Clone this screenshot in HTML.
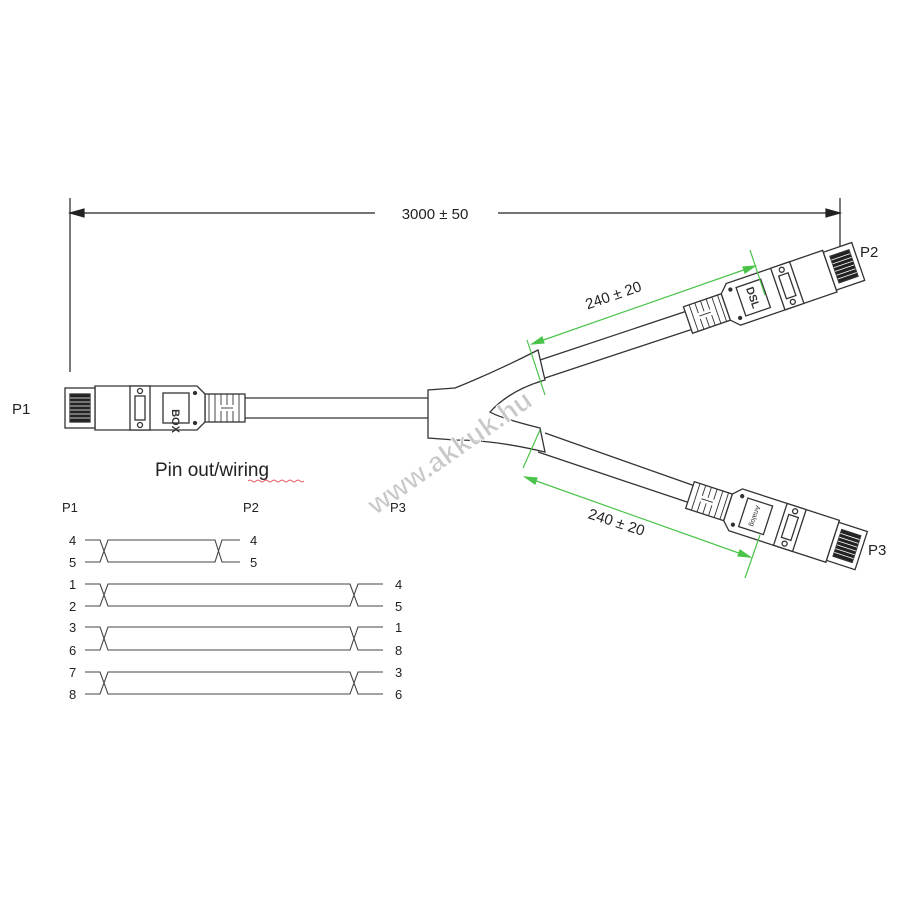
<!DOCTYPE html>
<html><head><meta charset="utf-8"><style>
html,body{margin:0;padding:0;background:#fff;}
svg{display:block;font-family:"Liberation Sans",sans-serif;}
</style></head><body>
<svg width="900" height="900" viewBox="0 0 900 900" xmlns="http://www.w3.org/2000/svg">
<defs>
<g id="conn" fill="#fff" stroke="#333" stroke-width="1.3">
  <rect x="0" y="-14" width="40" height="28"/>
  <g stroke-width="0.9">
    <line x1="6" y1="-14" x2="6" y2="14"/><line x1="12" y1="-14" x2="12" y2="-3"/><line x1="12" y1="3" x2="12" y2="14"/>
    <line x1="18" y1="-14" x2="18" y2="-3"/><line x1="18" y1="3" x2="18" y2="14"/><line x1="24" y1="-14" x2="24" y2="-3"/><line x1="24" y1="3" x2="24" y2="14"/>
    <line x1="30" y1="-14" x2="30" y2="14"/><line x1="36" y1="-14" x2="36" y2="14"/>
    <line x1="12" y1="0" x2="24" y2="0"/>
  </g>
  <path d="M40,-14 L48,-22 L150,-22 L150,22 L48,22 L40,14 Z"/>
  <rect x="56" y="-15" width="26" height="30"/>
  <circle cx="50" cy="-15" r="1.5" fill="#333"/><circle cx="50" cy="15" r="1.5" fill="#333"/>
  <rect x="95" y="-22" width="20" height="44"/>
  <rect x="100" y="-12" width="10" height="24"/>
  <circle cx="105" cy="-17" r="2.5"/><circle cx="105" cy="17" r="2.5"/>
  <rect x="150" y="-20" width="30" height="40"/>
  <rect x="155" y="-14" width="20" height="28" fill="#222"/>
  <g stroke="#fff" stroke-width="0.8">
    <line x1="155" y1="-10" x2="175" y2="-10"/><line x1="155" y1="-6" x2="175" y2="-6"/><line x1="155" y1="-2" x2="175" y2="-2"/><line x1="155" y1="2" x2="175" y2="2"/><line x1="155" y1="6" x2="175" y2="6"/><line x1="155" y1="10" x2="175" y2="10"/>
  </g>
</g>
</defs>

<g stroke="#222" stroke-width="1.2" fill="#222">
  <line x1="70" y1="198" x2="70" y2="372"/>
  <line x1="840" y1="198" x2="840" y2="250"/>
  <line x1="70" y1="213" x2="375" y2="213"/>
  <line x1="498" y1="213" x2="840" y2="213"/>
  <path d="M70,213 L84,209 L84,217 Z"/>
  <path d="M840,213 L826,209 L826,217 Z"/>
</g>
<text x="435" y="219" font-size="15" text-anchor="middle" fill="#222">3000 ± 50</text>

<g transform="translate(245,408) scale(-1,1)"><use href="#conn"/></g>
<text x="185" y="408" font-size="11" fill="#333" text-anchor="middle" transform="rotate(90 172 408)" font-weight="bold">BOX</text>
<g stroke="#333" stroke-width="1.3" fill="none">
  <line x1="245" y1="398" x2="428" y2="398"/>
  <line x1="245" y1="418" x2="428" y2="418"/>
  <path d="M428,390 L428,438 L455,440 Q495,440 545,452 L540,428 Q500,418 490,412 Q510,390 545,380 L538,350 Q495,372 455,388 Z" fill="#fff"/>
  <line x1="540" y1="360" x2="690" y2="310"/>
  <line x1="545" y1="378" x2="693" y2="329"/>
  <line x1="545" y1="433" x2="695" y2="486"/>
  <line x1="538" y1="452" x2="690" y2="503"/>
</g>
<g transform="translate(688,320) rotate(-19)"><use href="#conn"/>
  <text x="69" y="0" font-size="11" fill="#333" text-anchor="middle" transform="rotate(90 69 0)" dy="4" font-weight="bold">DSL</text></g>
<g transform="translate(690,495) rotate(18)"><use href="#conn"/>
  <text x="69" y="0" font-size="7" fill="#333" text-anchor="middle" transform="rotate(90 69 0)" dy="3">Analog</text></g>
<text x="860" y="257" font-size="15" fill="#222">P2</text>
<text x="868" y="555" font-size="15" fill="#222">P3</text>
<text x="12" y="414" font-size="15" fill="#222">P1</text>

<g stroke="#4ac34a" stroke-width="1.2" fill="#4ac34a">
  <line x1="527" y1="340" x2="545" y2="395"/>
  <line x1="750" y1="250" x2="765" y2="295"/>
  <line x1="532" y1="344" x2="755" y2="266"/>
  <line x1="523" y1="468" x2="540" y2="430"/>
  <line x1="745" y1="578" x2="760" y2="535"/>
  <line x1="525" y1="477" x2="750" y2="557"/>
  <path d="M532,344 L542,337 L544,343 Z"/>
  <path d="M755,266 L745,273 L743,267 Z"/>
  <path d="M525,477 L537,478 L535,484 Z"/>
  <path d="M750,557 L738,556 L740,550 Z"/>
</g>
<text x="615" y="300" font-size="15" fill="#222" text-anchor="middle" transform="rotate(-19 615 300)">240 ± 20</text>
<text x="615" y="527" font-size="15" fill="#222" text-anchor="middle" transform="rotate(18 615 527)">240 ± 20</text>

<text x="455" y="460" font-size="28" font-weight="bold" fill="#c8c8c8" stroke="#fff" stroke-width="0.8" text-anchor="middle" transform="rotate(-35 455 460)">www.akkuk.hu</text>

<text x="155" y="476" font-size="19" fill="#222">Pin out/wiring</text>
<path d="M248,481 q2,-2 4,0 t4,0 t4,0 t4,0 t4,0 t4,0 t4,0 t4,0 t4,0 t4,0 t4,0 t4,0 t4,0 t4,0" stroke="#d33" stroke-width="0.8" fill="none"/>

<g font-size="13" fill="#222">
  <text x="62" y="512">P1</text><text x="243" y="512">P2</text><text x="390" y="512">P3</text>
  <text x="69" y="545">4</text><text x="69" y="567">5</text><text x="250" y="545">4</text><text x="250" y="567">5</text>
  <text x="69" y="589">1</text><text x="69" y="611">2</text><text x="395" y="589">4</text><text x="395" y="611">5</text>
  <text x="69" y="632">3</text><text x="69" y="655">6</text><text x="395" y="632">1</text><text x="395" y="655">8</text>
  <text x="69" y="677">7</text><text x="69" y="699">8</text><text x="395" y="677">3</text><text x="395" y="699">6</text>
</g>
<g stroke="#444" stroke-width="1.1" fill="none">
  <path d="M85,540 H100 L108,562 H215 L222,540 H240 M85,562 H100 L108,540 H215 L222,562 H240"/>
  <path d="M85,584 H100 L108,606 H350 L358,584 H383 M85,606 H100 L108,584 H350 L358,606 H383"/>
  <path d="M85,627 H100 L108,650 H350 L358,627 H383 M85,650 H100 L108,627 H350 L358,650 H383"/>
  <path d="M85,672 H100 L108,694 H350 L358,672 H383 M85,694 H100 L108,672 H350 L358,694 H383"/>
</g>
</svg>
</body></html>
